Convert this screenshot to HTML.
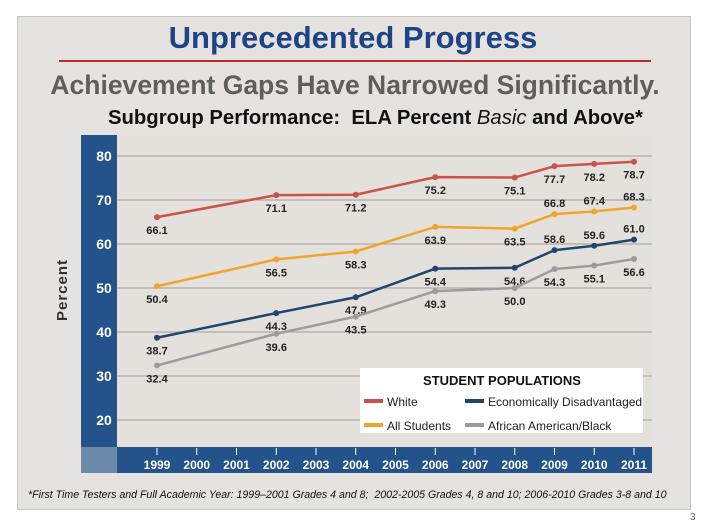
<!DOCTYPE html>
<html><head><meta charset="utf-8"><style>
body{margin:0;width:706px;height:529px;background:#fff;position:relative;overflow:hidden;font-family:"Liberation Sans",sans-serif}
.abs{position:absolute}
</style></head><body>
<div class="abs" style="left:17px;top:16px;width:672px;height:492px;background:#e6e2df;border:1px solid #c8c6c4"></div>
<div class="abs" style="left:0;width:706px;top:20px;text-align:center;font-size:31px;font-weight:bold;color:#1e4487">Unprecedented Progress</div>
<div class="abs" style="left:59px;top:60px;width:592px;height:2px;background:#c0282c"></div>
<div class="abs" style="left:2px;width:706px;top:70px;text-align:center;font-size:26.5px;font-weight:bold;color:#5e5e5e">Achievement Gaps Have Narrowed Significantly.</div>
<div class="abs" style="left:108px;top:107px;font-size:20.3px;font-weight:bold;color:#111">Subgroup Performance:&nbsp; ELA Percent <i style="font-weight:normal">Basic</i> and Above*</div>
<svg class="abs" style="left:0;top:0" width="706" height="529" id="chart"></svg>
<div class="abs" style="left:28px;top:489px;font-size:10.6px;font-style:italic;color:#111">*First Time Testers and Full Academic Year: 1999–2001 Grades 4 and 8;&nbsp; 2002-2005 Grades 4, 8 and 10; 2006-2010 Grades 3-8 and 10</div>
<div class="abs" style="left:690px;top:512px;font-size:10px;color:#666">3</div>
<script>
const years=[1999,2002,2004,2006,2008,2009,2010,2011];
const axisYears=[1999,2000,2001,2002,2003,2004,2005,2006,2007,2008,2009,2010,2011];
const yTicks=[20,30,40,50,60,70,80];
const white=[66.1,71.1,71.2,75.2,75.1,77.7,78.2,78.7];
const allStudents=[50.4,56.5,58.3,63.9,63.5,66.8,67.4,68.3];
const econ=[38.7,44.3,47.9,54.4,54.6,58.6,59.6,61.0];
const black=[32.4,39.6,43.5,49.3,50.0,54.3,55.1,56.6];
const NS='http://www.w3.org/2000/svg';
const svg=document.getElementById('chart');
function xs(yr){return 157+(yr-1999)*(634-157)/12;}
function ys(v){return 156+(80-v)*(420-156)/60;}
function mk(tag,attrs,parent){const e=document.createElementNS(NS,tag);for(const k in attrs)e.setAttribute(k,attrs[k]);(parent||svg).appendChild(e);return e;}
let e;
e=mk('rect',{x:117,y:135,width:535,height:313,fill:'#e4e0dc'});

e=mk('rect',{x:81,y:135,width:36,height:338,fill:'#24528a'});

e=mk('rect',{x:117,y:447,width:535,height:26,fill:'#24528a'});

e=mk('rect',{x:81,y:447,width:36,height:26,fill:'#6b8aaa'});

yTicks.forEach(t=>{
 const g=mk('line',{x1:117,x2:652,y1:ys(t),y2:ys(t),stroke:'#a09d9a','stroke-width':1});
 
 const l=mk('text',{x:104,y:ys(t)+5,'text-anchor':'middle','font-size':14,'font-weight':'bold',fill:'#fff'});l.textContent=t;
 
});
axisYears.forEach(yr=>{
 const tk=mk('line',{x1:xs(yr),x2:xs(yr),y1:448,y2:455,stroke:'#fff','stroke-width':1});
 
 const l=mk('text',{x:xs(yr),y:469,'text-anchor':'middle','font-size':12,'font-weight':'bold',fill:'#fff'});l.textContent=yr;
 
});
const t=mk('text',{x:0,y:0,transform:'translate(67,290) rotate(-90)','text-anchor':'middle','font-size':15,'font-weight':'bold',fill:'#333','letter-spacing':'1'});t.textContent='Percent';

const series=[['white',white,'#c8524c',9999],['all-students',allStudents,'#f0a52a',2009],['econ-disadvantaged',econ,'#21456f',2009],['african-american',black,'#9c9c9c',9999]];
series.forEach(([name,vals,col,aboveFrom])=>{
 const pts=vals.map((v,i)=>xs(years[i])+','+ys(v)).join(' ');
 const pl=mk('polyline',{points:pts,fill:'none',stroke:col,'stroke-width':2.5});
 
 vals.forEach((v,i)=>{
  const c=mk('circle',{cx:xs(years[i]),cy:ys(v),r:3,fill:col});
  
  const above=years[i]>=aboveFrom;
  const l=mk('text',{x:xs(years[i]),y:ys(v)+(above?-7:17),'text-anchor':'middle','font-size':11,'font-weight':'bold',fill:'#222'});l.textContent=v.toFixed(1);
  
 });
});
const lg=mk('g',{});

mk('rect',{x:360,y:368,width:283,height:65,fill:'#fff'},lg);
const lt=mk('text',{x:502,y:385,'text-anchor':'middle','font-size':13,'font-weight':'bold',fill:'#111'},lg);lt.textContent='STUDENT POPULATIONS';

const items=[['White','#c8524c',364,402],['Economically Disadvantaged','#21456f',465,402],['All Students','#f0a52a',364,426],['African American/Black','#9c9c9c',465,426]];
items.forEach(([txt,col,x,y])=>{
 const g=mk('g',{},lg);
 
 mk('rect',{x:x,y:y-3,width:19,height:4,fill:col},g);
 const tx=mk('text',{x:x+23,y:y+4,'font-size':12,fill:'#222'},g);tx.textContent=txt;
});
</script>
</body></html>
